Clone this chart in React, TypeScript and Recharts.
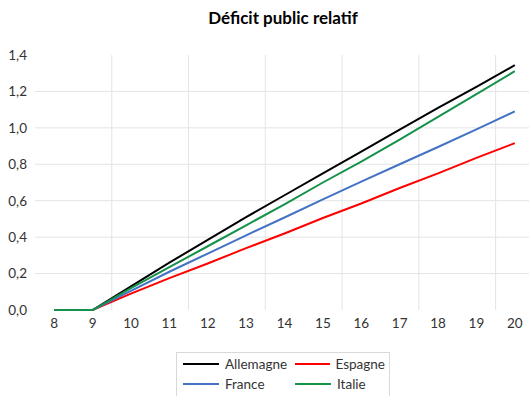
import React from 'react';
import { LineChart, Line, XAxis, YAxis, ReferenceLine, Legend } from 'recharts';

const years = [8, 9, 10, 11, 12, 13, 14, 15, 16, 17, 18, 19, 20];
const allemagne = [0, 0, 0.13, 0.26, 0.385, 0.51, 0.63, 0.75, 0.87, 0.99, 1.11, 1.225, 1.344];
const espagne = [0, 0, 0.09, 0.175, 0.255, 0.34, 0.42, 0.505, 0.585, 0.67, 0.75, 0.835, 0.916];
const france = [0, 0, 0.105, 0.21, 0.31, 0.41, 0.508, 0.607, 0.705, 0.8, 0.895, 0.992, 1.09];
const italie = [0, 0, 0.12, 0.235, 0.35, 0.465, 0.58, 0.7, 0.815, 0.935, 1.06, 1.185, 1.311];

const yTicks = [0, 0.2, 0.4, 0.6, 0.8, 1.0, 1.2, 1.4];
const hGrid = [0.2, 0.4, 0.6, 0.8, 1.0, 1.2];
const vGrid = [9.5, 11.5, 13.5, 15.5, 17.5, 19.5];

const series = [
  { key: 'Allemagne', values: allemagne, color: '#000000' },
  { key: 'Espagne', values: espagne, color: '#ff0000' },
  { key: 'France', values: france, color: '#4472c4' },
  { key: 'Italie', values: italie, color: '#15924a' },
];

const data = years.map((x, i) => {
  const row: Record<string, number> = { x };
  series.forEach((s) => {
    row[s.key] = s.values[i];
  });
  return row;
});

const FONT = 'Lato, "Open Sans", sans-serif';
const TEXT = '#333333';
const fmt = (v: number) => v.toFixed(1).replace('.', ',');

const renderLegend = (props: any) => {
  const payload = props.payload || [];
  return (
    <div
      style={{
        border: '1px solid #d9d9d9',
        boxSizing: 'border-box',
        width: 214,
        height: 50,
        padding: '1px 0 0 6px',
        display: 'grid',
        gridTemplateColumns: '112px 90px',
        gridAutoRows: '20px',
        fontFamily: FONT,
        fontSize: 13.5,
        color: TEXT,
        background: '#fff',
      }}
    >
      {payload.map((p: any) => (
        <div key={p.value} style={{ display: 'flex', alignItems: 'center', height: 20 }}>
          <span style={{ display: 'inline-block', width: 36, height: 2, background: p.color, marginRight: 6 }} />
          <span>{p.value}</span>
        </div>
      ))}
    </div>
  );
};

export default function App() {
  return (
    <div
      style={{
        position: 'absolute',
        left: 0,
        top: 0,
        width: 529,
        height: 396,
        overflow: 'hidden',
        background: '#fff',
      }}
    >
      <div
        style={{
          position: 'absolute',
          left: 183,
          width: 200,
          top: 7,
          textAlign: 'center',
          fontFamily: FONT,
          fontWeight: 700,
          fontSize: 17,
          color: '#000',
          zIndex: 2,
        }}
      >
        Déficit public relatif
      </div>
      <LineChart
        width={540}
        height={396}
        data={data}
        margin={{ top: 55, right: 6, left: 5, bottom: 56 }}
        style={{ fontFamily: FONT }}
      >
        {hGrid.map((v) => (
          <ReferenceLine key={'h' + v} y={v} stroke="#e4e4e4" strokeWidth={1} />
        ))}
        {vGrid.map((v) => (
          <ReferenceLine key={'v' + v} x={v} stroke="#e4e4e4" strokeWidth={1} />
        ))}
        <XAxis
          dataKey="x"
          type="number"
          domain={[7.5, 20.5]}
          ticks={years}
          interval={0}
          axisLine={false}
          tickLine={false}
          height={30}
          tick={{ fill: TEXT, fontSize: 13.5, fontFamily: FONT }}
        />
        <YAxis
          type="number"
          domain={[0, 1.4]}
          ticks={yTicks}
          interval={0}
          axisLine={false}
          tickLine={false}
          width={30}
          tickFormatter={fmt}
          tick={{ fill: TEXT, fontSize: 13.5, fontFamily: FONT }}
        />
        <Legend
          layout="horizontal"
          verticalAlign="middle"
          align="center"
          content={renderLegend}
          wrapperStyle={{ position: 'absolute', left: 176, top: 352, width: 214, height: 50 }}
        />
        {series.map((s) => (
          <Line
            key={s.key}
            dataKey={s.key}
            name={s.key}
            stroke={s.color}
            strokeWidth={2}
            dot={false}
            activeDot={false}
            type="linear"
            isAnimationActive={false}
          />
        ))}
      </LineChart>
    </div>
  );
}
